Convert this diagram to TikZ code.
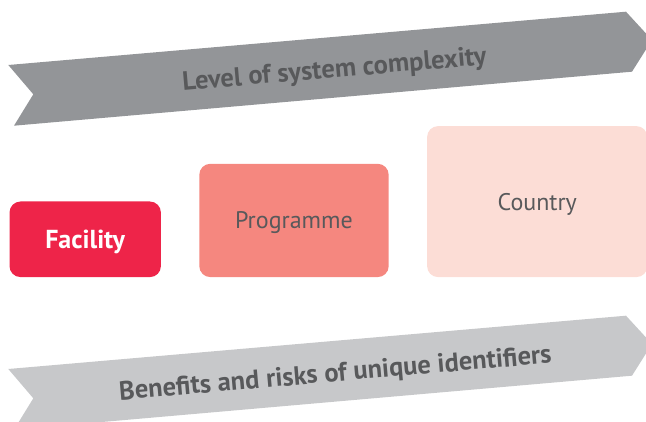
\documentclass[tikz,border=0pt]{standalone}
\usepackage{fontspec}
\setmainfont{PT Sans}
\usetikzlibrary{positioning}
\definecolor{ribbondark}{HTML}{939598}
\definecolor{ribbonlight}{HTML}{C7C8CA}
\definecolor{labelgrey}{HTML}{58595B}
\definecolor{facilityred}{HTML}{EE2449}
\definecolor{programmepink}{HTML}{F5877F}
\definecolor{countrypink}{HTML}{FCDDD6}
\begin{document}
\begin{tikzpicture}[x=1pt,y=-1pt,node distance=38pt,
    box/.style={rounded corners=11pt,inner sep=0pt,text depth=0pt,font=\fontsize{24}{28}\selectfont,text=labelgrey},
    ribbon text/.style={font=\fontsize{26.5}{30}\selectfont\bfseries,text=labelgrey,rotate=4.93,anchor=base}]

                    \useasboundingbox (0,0) rectangle (646,422);

                    % the two ribbons
                    \fill[ribbondark] (8.3,65) -- (626,11.7) -- (652,40) -- (632,71.7)
                        -- (14,125.7) -- (33.3,94.3) -- cycle;
                    \fill[ribbonlight] (8.3,369) -- (626,315.7) -- (652,344) -- (632,375.7)
                        -- (14,429.7) -- (33.3,398.3) -- cycle;

                    \node[ribbon text] (complexity) at (335,77.5) {Level of system complexity};
                    \node[ribbon text] (benefits) at (336,381.5) {Benefits and risks of unique identifiers};

                    % the three levels
                    \node[box, fill=facilityred, text=white, font=\fontsize{26}{30}\selectfont\bfseries,
                        minimum width=151.4pt, minimum height=75.6pt, anchor=south west] (facility) at (9.3,277.3) {Facility};
                    \node[box, fill=programmepink, minimum width=189.4pt, minimum height=113.3pt]
                        (programme) [right=of facility.south east, anchor=south west] {Programme};
                    \node[box, fill=countrypink, minimum width=220.3pt, minimum height=151pt]
                        (country) [right=of programme.south east, anchor=south west] {Country};
                \end{tikzpicture}
\end{document}
